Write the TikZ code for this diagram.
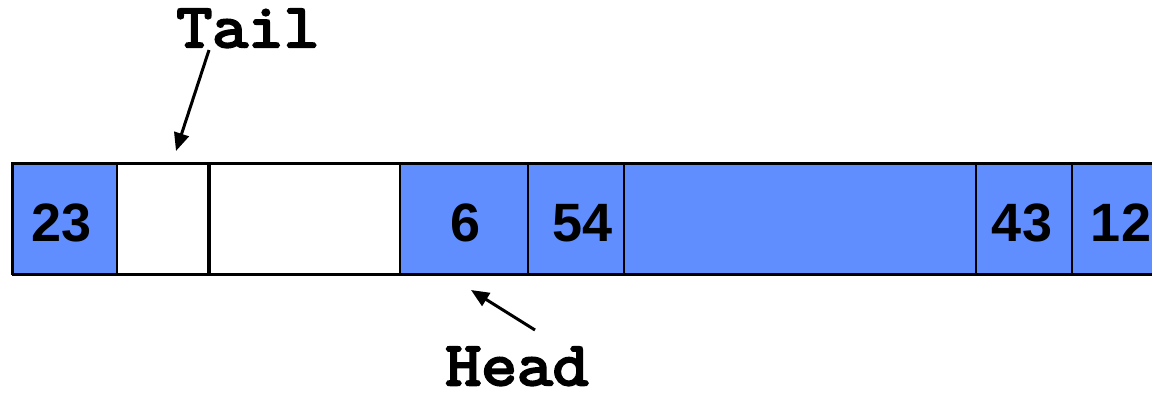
\documentclass[tikz,border=0pt]{standalone}
\usepackage{fontspec}
\setmainfont{Liberation Sans}
\newfontfamily\courb[FakeBold=4,FakeStretch=1.12]{Latin Modern Mono}
\usetikzlibrary{arrows.meta}
\definecolor{cellblue}{RGB}{96,142,255}
\tikzset{
  cell/.style={draw=black, line width=2pt, anchor=north west, minimum height=111pt, inner sep=0pt, outer sep=0pt},
  full/.style={cell, fill=cellblue},
  empty/.style={cell, fill=white},
  num/.style={font=\bfseries\fontsize{54}{54}\selectfont, anchor=base, inner sep=0pt},
  ptr/.style={font=\courb\fontsize{62}{62}\selectfont, anchor=base, inner sep=0pt},
  arr/.style={line width=3pt, -{Triangle[length=18pt,width=15pt]}}
}
\begin{document}
\begin{tikzpicture}[x=1pt,y=-1pt]
\useasboundingbox (0,0) rectangle (1152,397);
\clip (0,0) rectangle (1152,397);
\node[full, minimum width=105pt] (c1) at (12,163) {};
\node[empty, minimum width=92pt] (c2) at (117,163) {};
\node[empty, minimum width=191pt] (c3) at (209,163) {};
\node[full, minimum width=128pt] (c4) at (400,163) {};
\node[full, minimum width=96pt] (c5) at (528,163) {};
\node[full, minimum width=352pt] (c6) at (624,163) {};
\node[full, minimum width=96pt] (c7) at (976,163) {};
\node[full, minimum width=120pt] (c8) at (1072,163) {};
\draw[line width=3pt] (c1.north west) -- (c8.north east);
\draw[line width=3pt] (c1.south west) -- (c8.south east);
\draw[line width=3pt] (c1.north west) -- (c1.south west);
\draw[line width=4pt] (c3.north west) -- (c3.south west);
\node[num] (n23) at (62,241) {23};
\node[num] (n6) at (466,241) {6};
\node[num] (n54) at (583,241) {54};
\node[num] (n43) at (1022,241) {43};
\node[num] (n12) at (1121,241) {12};
\node[ptr] (tail) at (248,47) {Tail};
\node[ptr] (head) at (517,385) {Head};
\coordinate (tailtip) at (176,151);
\coordinate (headtip) at (471,290);
\coordinate (tailstart) at (209,50);
\coordinate (headstart) at (535,330);
\draw[arr] (tailstart) -- (tailtip);
\draw[arr] (headstart) -- (headtip);
\end{tikzpicture}
\end{document}
